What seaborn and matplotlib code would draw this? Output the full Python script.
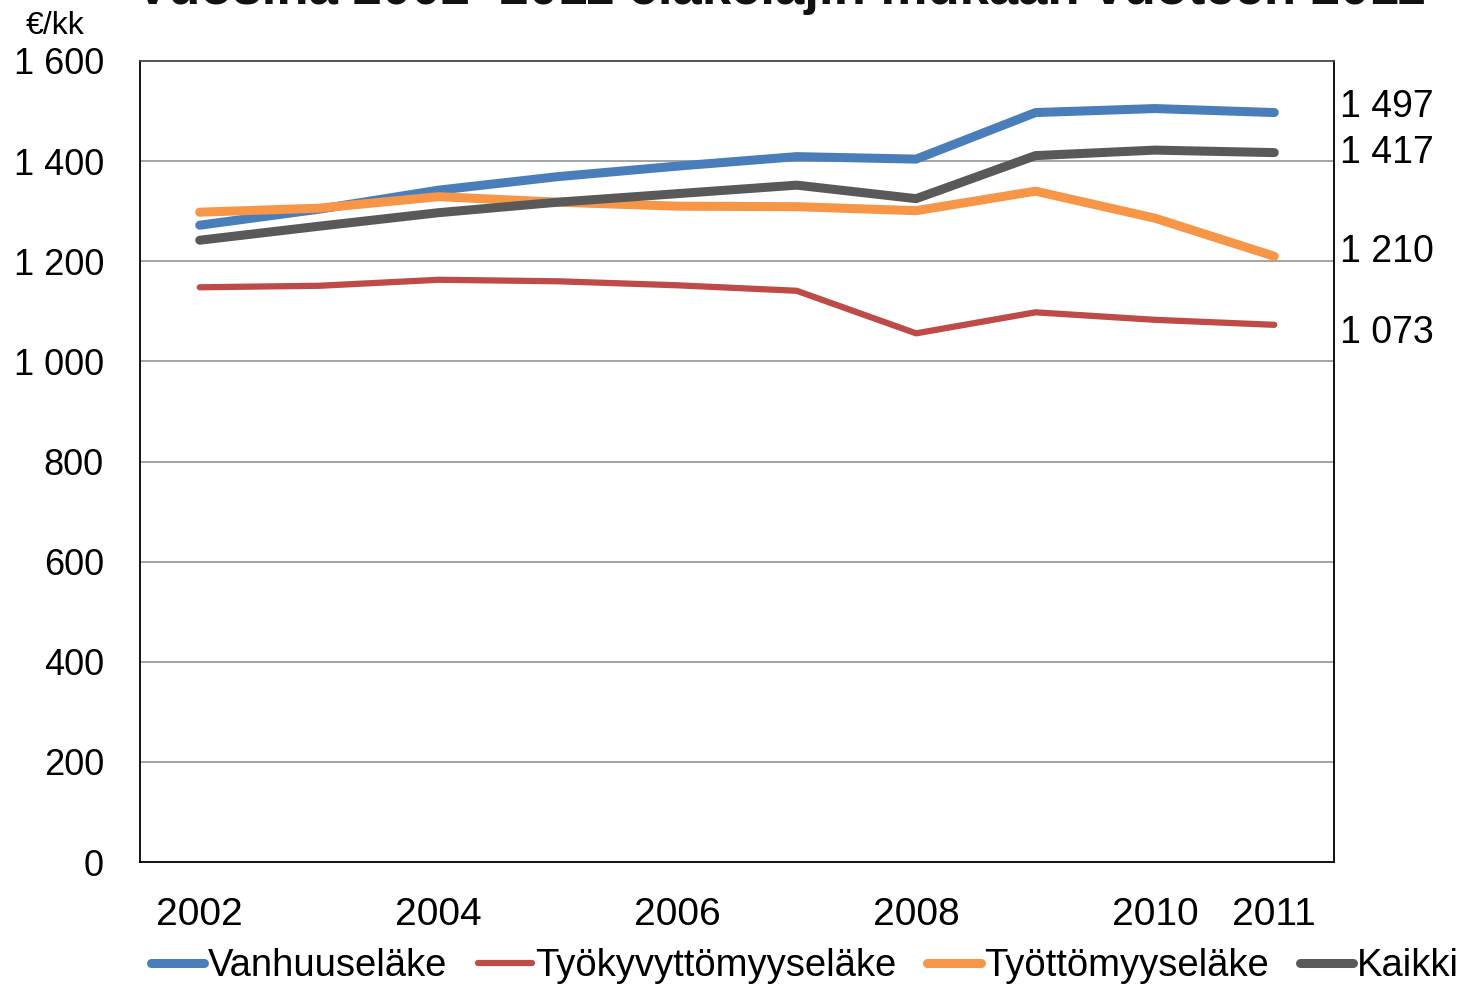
import numpy as np
import pandas as pd
import seaborn as sns
import matplotlib.pyplot as plt

years = [2002, 2003, 2004, 2005, 2006, 2007, 2008, 2009, 2010, 2011]
year_labels = ["2002", "", "2004", "", "2006", "", "2008", "", "2010", "2011"]

vanhuus = [1272, 1304, 1342, 1369, 1390, 1409, 1404, 1497, 1505, 1497]
tyokyvyttomyys = [1148, 1151, 1163, 1160, 1152, 1141, 1056, 1098, 1083, 1073]
tyottomyys = [1298, 1306, 1329, 1318, 1310, 1309, 1301, 1340, 1286, 1210]
kaikki = [1242, 1270, 1297, 1318, 1335, 1352, 1325, 1411, 1422, 1417]

series_names = ["Vanhuuseläke", "Työkyvyttömyyseläke", "Työttömyyseläke", "Kaikki"]
end_labels = ["1 497", "1 073", "1 210", "1 417"]

df = pd.DataFrame({
    "vuosi": years * 4,
    "euroa": vanhuus + tyokyvyttomyys + tyottomyys + kaikki,
    "laji": np.repeat(series_names, len(years)),
})

colors = {"Vanhuuseläke": "#4a7ebb", "Työkyvyttömyyseläke": "#be4b48",
          "Työttömyyseläke": "#f79646", "Kaikki": "#595959"}
widths = {"Vanhuuseläke": 6.5, "Työkyvyttömyyseläke": 4.5,
          "Työttömyyseläke": 6.5, "Kaikki": 6.5}
# nudge (in points) so the end labels don't collide
label_nudge = {"Vanhuuseläke": 4, "Työkyvyttömyyseläke": -6,
               "Työttömyyseläke": 3, "Kaikki": 0}

sns.set_theme(style="white")
plt.rcParams["font.family"] = ["Liberation Sans", "DejaVu Sans"]
plt.rcParams["text.color"] = "black"
plt.rcParams["xtick.color"] = "black"
plt.rcParams["ytick.color"] = "black"

fig = plt.figure(figsize=(14.65, 9.85), dpi=100)
ax = fig.add_axes([140/1465, 1-862/985, (1334-140)/1465, (862-61)/985])

for name in series_names:
    sub = df[df["laji"] == name]
    sns.lineplot(data=sub, x="vuosi", y="euroa", ax=ax, color=colors[name],
                 linewidth=widths[name], label=name, legend=False,
                 solid_capstyle="round", solid_joinstyle="round")
    last = sub.iloc[-1]
    ax.annotate(end_labels[series_names.index(name)], xy=(1, last["euroa"]),
                xycoords=("axes fraction", "data"),
                xytext=(4, label_nudge[name]), textcoords="offset points",
                ha="left", va="center", fontsize=27)

ax.set_ylim(0, 1600)
ax.set_xlim(years[0] - 0.5, years[-1] + 0.5)
ax.set_yticks(range(0, 1601, 200))
ax.set_yticklabels([f"{v:,}".replace(",", " ") for v in range(0, 1601, 200)], fontsize=26)
ax.tick_params(axis="y", direction="out", length=9, width=1.2, color="black", pad=17)

bounds = np.arange(years[0] - 0.5, years[-1] + 0.6, 1.0)
ax.set_xticks(bounds)
ax.set_xticklabels([""] * len(bounds))
ax.tick_params(axis="x", which="major", direction="in", length=11, width=1.2, color="black")
ax.set_xticks(years, minor=True)
ax.set_xticklabels(year_labels, minor=True, fontsize=28)
ax.tick_params(axis="x", which="minor", length=0, pad=25)

ax.set_xlabel("")
ax.set_ylabel("")
for y in range(200, 1401, 200):
    ax.axhline(y, color="#8c8c8c", linewidth=1.1, zorder=0)
for s in ax.spines.values():
    s.set_color("black")
    s.set_linewidth(1.3)
ax.spines["top"].set_color("#444444")

fig.text(26/1465, 1-26/985, "€/kk", fontsize=23, va="center", ha="left")
# title is cut off at the top edge in the original, only its lower part shows
fig.text(780/1465, 1-4/985, "Vuosina 2002–2011 eläkelajin mukaan vuoteen 2011",
         fontsize=38, fontweight="bold", ha="center", va="baseline", color="#111111")

handles, labels = ax.get_legend_handles_labels()
fig.legend(handles, labels, loc="center", bbox_to_anchor=(805/1465, 1-966/985),
           ncol=4, frameon=False, fontsize=27.5, handlelength=1.4, handletextpad=0.1,
           columnspacing=0.8, borderaxespad=0)

fig.savefig("out.png", dpi=100)
